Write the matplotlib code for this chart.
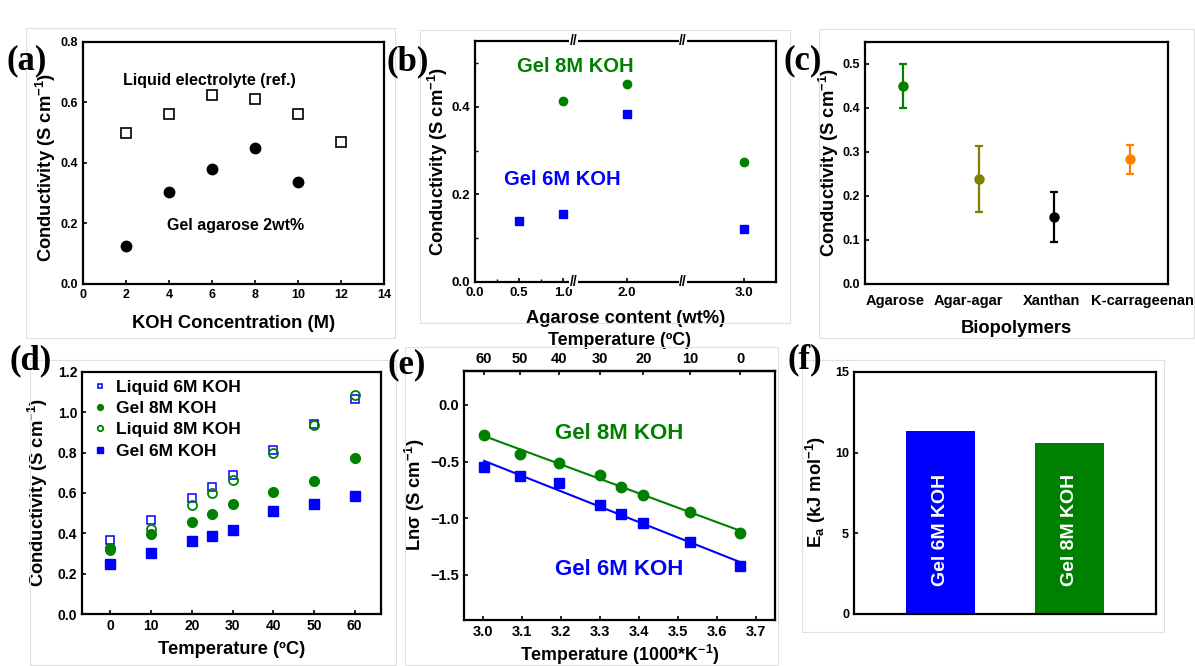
import numpy as np
import matplotlib
matplotlib.use("Agg")
import matplotlib.pyplot as plt
import matplotlib.transforms as mtrans
from matplotlib.patches import Rectangle

# (a) conductivity vs KOH concentration
koh_conc = [2, 4, 6, 8, 10, 12]
liquid_ref = [0.499, 0.562, 0.625, 0.610, 0.562, 0.470]
gel_conc = [2, 4, 6, 8, 10]
gel_agarose = [0.127, 0.303, 0.381, 0.450, 0.338]

# (b) conductivity vs agarose content
agar_6m_x = [0.5, 1.0, 2.0, 3.0]
agar_6m = [0.139, 0.155, 0.383, 0.121]
agar_8m_x = [1.0, 2.0, 3.0]
agar_8m = [0.414, 0.451, 0.275]
agar_ticks = [0.0, 0.5, 1.0, 2.0, 3.0]

# (c) biopolymers
polymers = ["Agarose", "Agar-agar", "Xanthan", "K-carrageenan"]
poly_cond = [0.451, 0.238, 0.152, 0.283]
poly_err = [0.050, 0.075, 0.057, 0.034]
poly_colors = ["#008000", "#808000", "#000000", "#ff8000"]

# (d) conductivity vs temperature
temps = [0, 10, 20, 25, 30, 40, 50, 60]
liq_6m = [0.366, 0.466, 0.573, 0.631, 0.688, 0.812, 0.941, 1.068]
gel_8m = [0.328, 0.395, 0.457, 0.494, 0.546, 0.607, 0.660, 0.774]
liq_8m = [0.317, 0.423, 0.540, 0.601, 0.664, 0.799, 0.938, 1.085]
gel_6m = [0.246, 0.304, 0.360, 0.386, 0.419, 0.510, 0.545, 0.583]

# (e) Arrhenius plot
ln_gel_8m = [-1.127, -0.945, -0.792, -0.725, -0.619, -0.511, -0.429, -0.267]
ln_gel_6m = [-1.424, -1.215, -1.042, -0.963, -0.881, -0.690, -0.625, -0.552]
top_temps = [60, 50, 40, 30, 20, 10, 0]

# (f) activation energy
ea_labels = ["Gel 6M KOH", "Gel 8M KOH"]
ea_values = [11.32, 10.57]
ea_colors = ["#0000ff", "#008000"]

BLUE = "#0000ff"
GREEN = "#008000"

plt.rcParams["font.family"] = ["Liberation Sans", "DejaVu Sans"]
plt.rcParams["font.weight"] = "bold"
plt.rcParams["axes.labelweight"] = "bold"
plt.rcParams["mathtext.fontset"] = "custom"
plt.rcParams["mathtext.rm"] = "Liberation Sans:bold"
plt.rcParams["mathtext.default"] = "regular"
plt.rcParams["axes.linewidth"] = 1.6
plt.rcParams["xtick.direction"] = "in"
plt.rcParams["ytick.direction"] = "in"
plt.rcParams["xtick.major.size"] = 3
plt.rcParams["ytick.major.size"] = 3
plt.rcParams["xtick.minor.size"] = 2
plt.rcParams["ytick.minor.size"] = 2
plt.rcParams["xtick.major.width"] = 1.2
plt.rcParams["ytick.major.width"] = 1.2
plt.rcParams["xtick.minor.width"] = 1.0
plt.rcParams["ytick.minor.width"] = 1.0
plt.rcParams["axes.labelsize"] = 13.2

W, H = 1195, 666
fig = plt.figure(figsize=(W / 100, H / 100), dpi=100)


def add_ax(l, t, r, b):
    ax = fig.add_axes([l / W, 1 - b / H, (r - l) / W, (b - t) / H])
    ax._px = (l, t, r, b)
    return ax


def place_ylabel(ax, xr, yc):
    # xr: right edge of the rotated label, yc: its centre (pixels)
    l, t, r, b = ax._px
    ax.yaxis.set_label_coords((xr - l) / (r - l), 1 - (yc - t) / (b - t))


# faint frames of the pasted panels
for l, t, r, b in [(26, 28, 395, 338), (420, 30, 790, 323), (819, 29, 1194, 338),
                   (30, 360, 396, 665), (405, 347, 778, 665), (802, 360, 1164, 632)]:
    fig.add_artist(Rectangle((l / W, 1 - b / H), (r - l) / W, (b - t) / H,
                             transform=fig.transFigure, fill=False,
                             edgecolor="#e0e0e0", lw=0.8))

panel_font = dict(family="Liberation Serif", weight="bold", size=25,
                  ha="center", va="center")
for lab, x, y in [("(a)", 27, 61), ("(b)", 408, 62), ("(c)", 803, 61),
                  ("(d)", 31, 361), ("(e)", 407, 365), ("(f)", 805, 360)]:
    fig.text(x / W, 1 - y / H, lab, **panel_font)

ylab_cond = "Conductivity (S cm$^{-1}$)"

# ---- (a)
ax = add_ax(83, 42, 384, 284)
ax.plot(koh_conc, liquid_ref, "s", ms=6.5, mfc="none", mec="black", mew=1.2)
ax.plot(gel_conc, gel_agarose, "o", ms=7.5, color="black")
ax.set_xlim(0, 14)
ax.set_ylim(0, 0.8)
ax.set_xticks(range(0, 15, 2))
ax.set_yticks([0, 0.2, 0.4, 0.6, 0.8])
ax.set_yticklabels(["%.1f" % v for v in [0, 0.2, 0.4, 0.6, 0.8]])
ax.tick_params(labelsize=9)
ax.set_xlabel("KOH Concentration (M)", labelpad=10)
ax.set_ylabel(ylab_cond)
place_ylabel(ax, 58, 167)
ax.text(5.87, 0.672, "Liquid electrolyte (ref.)", ha="center", va="center", fontsize=11.5)
ax.text(7.1, 0.193, "Gel agarose 2wt%", ha="center", va="center", fontsize=11.5)

# ---- (b) broken x axis via piecewise scale
brk_data = [0.0, 1.0, 2.0, 3.0, 4.0]
brk_pos = [0.0, 88.0, 152.0, 269.0, 386.0]


def fwd(x):
    return np.interp(x, brk_data, brk_pos)


def inv(p):
    return np.interp(p, brk_pos, brk_data)


ax = add_ax(475, 41, 776, 282)
ax.set_xscale("function", functions=(fwd, inv))
ax.plot(agar_6m_x, agar_6m, "s", ms=6, color=BLUE)
ax.plot(agar_8m_x, agar_8m, "o", ms=6, color=GREEN)
ax.set_xlim(0, 3.0 + 32 / 117)
ax.set_ylim(0, 0.55)
ax.set_xticks(agar_ticks)
ax.set_xticklabels(["%.1f" % v for v in agar_ticks])
ax.set_xticks([0.25, 0.75], minor=True)
ax.set_yticks([0, 0.2, 0.4])
ax.set_yticklabels(["0.0", "0.2", "0.4"])
ax.set_yticks([0.1, 0.3, 0.5], minor=True)
ax.tick_params(labelsize=9.5)
for xb in [1.16, 2.48]:
    for yb in [0, 1]:
        ax.text(xb, yb, "//", transform=ax.get_xaxis_transform(), ha="center",
                va="center", fontsize=10, clip_on=False, zorder=5,
                bbox=dict(facecolor="white", edgecolor="none", pad=0.3))
ax.set_xlabel("Agarose content (wt%)", labelpad=8)
ax.set_ylabel(ylab_cond)
place_ylabel(ax, 450, 161)
ax.text(1.2, 0.491, "Gel 8M KOH", color=GREEN, ha="center", va="center", fontsize=14.5)
ax.text(0.99, 0.233, "Gel 6M KOH", color=BLUE, ha="center", va="center", fontsize=14.5)

# ---- (c)
ax = add_ax(865, 42, 1168, 284)
for i in range(len(polymers)):
    ax.errorbar(i, poly_cond[i], yerr=poly_err[i], fmt="o", ms=6.5,
                color=poly_colors[i], ecolor=poly_colors[i], elinewidth=1.6,
                capsize=3, capthick=1.6)
ax.set_xlim(-0.5, 3.5)
ax.set_ylim(0, 0.55)
ax.set_xticks(range(len(polymers)))
ax.set_xticklabels(polymers, fontsize=10.5)
ax.tick_params(axis="x", length=0, pad=7)
for lbl, dx in zip(ax.get_xticklabels(), [-8, -10, -3, 12]):
    lbl.set_transform(lbl.get_transform() + mtrans.ScaledTranslation(dx / 100, 0, fig.dpi_scale_trans))
ax.set_yticks([0, 0.1, 0.2, 0.3, 0.4, 0.5])
ax.set_yticklabels(["%.1f" % v for v in [0, 0.1, 0.2, 0.3, 0.4, 0.5]])
ax.tick_params(axis="y", labelsize=9)
ax.set_xlabel("Biopolymers", labelpad=9)
ax.set_ylabel(ylab_cond)
place_ylabel(ax, 841, 162)

# ---- (d)
ax = add_ax(82, 372, 381, 614)
ax.plot(temps, liq_6m, "s", ms=6, mfc="none", mec=BLUE, mew=1.1, label="Liquid 6M KOH")
ax.plot(temps, gel_8m, "o", ms=7, color=GREEN, label="Gel 8M KOH")
ax.plot(temps, liq_8m, "o", ms=6.5, mfc="none", mec=GREEN, mew=1.3, label="Liquid 8M KOH")
ax.plot(temps, gel_6m, "s", ms=7, color=BLUE, label="Gel 6M KOH")
ax.set_xlim(-7, 66.5)
ax.set_ylim(0, 1.2)
ax.set_xticks(range(0, 61, 10))
ax.set_yticks([0, 0.2, 0.4, 0.6, 0.8, 1.0, 1.2])
ax.set_yticklabels(["%.1f" % v for v in [0, 0.2, 0.4, 0.6, 0.8, 1.0, 1.2]])
ax.tick_params(labelsize=10)
ax.set_xlabel("Temperature (ºC)", labelpad=6)
ax.set_ylabel(ylab_cond)
place_ylabel(ax, 50, 492)
ax.legend(loc="upper left", frameon=False, fontsize=12.5, markerscale=0.6,
          handletextpad=0.3, labelspacing=0.35, borderaxespad=0.1,
          handlelength=1.2, borderpad=0.35)

# ---- (e)
inv_t = [1000.0 / (t + 273.15) for t in temps]
ax = add_ax(464, 371, 775, 620)
k8, b8 = np.polyfit(inv_t, ln_gel_8m, 1)
k6, b6 = np.polyfit(inv_t, ln_gel_6m, 1)
xs = np.array([min(inv_t), max(inv_t)])
ax.plot(xs, k8 * xs + b8, color=GREEN, lw=1.5)
ax.plot(xs, k6 * xs + b6, color=BLUE, lw=1.5)
ax.plot(inv_t, ln_gel_8m, "o", ms=7.5, color=GREEN)
ax.plot(inv_t, ln_gel_6m, "s", ms=7, color=BLUE)
ax.set_xlim(2.95, 3.75)
ax.set_ylim(-1.9, 0.3)
ax.set_xticks(np.round(np.arange(3.0, 3.71, 0.1), 1))
ax.set_yticks([-1.5, -1.0, -0.5, 0.0])
ax.tick_params(labelsize=10.5)
ax.set_xlabel("Temperature (1000*K$^{-1}$)", labelpad=3, fontsize=12.8)
ax.set_ylabel("Lnσ (S cm$^{-1}$)")
place_ylabel(ax, 427, 495)
ax.text(3.35, -0.252, "Gel 8M KOH", color=GREEN, ha="center", va="center", fontsize=16)
ax.text(3.35, -1.456, "Gel 6M KOH", color=BLUE, ha="center", va="center", fontsize=16)


def k_to_c(x):
    x = np.asarray(x, dtype=float)
    with np.errstate(divide="ignore"):
        return 1000.0 / x - 273.15


def c_to_k(c):
    c = np.asarray(c, dtype=float)
    with np.errstate(divide="ignore"):
        return 1000.0 / (c + 273.15)


sec = ax.secondary_xaxis("top", functions=(k_to_c, c_to_k))
sec.set_xticks(top_temps)
sec.tick_params(labelsize=10.5, direction="in")
sec.set_xlabel("Temperature (ºC)", labelpad=5, fontsize=12.8)

# ---- (f)
ax = add_ax(854, 372, 1156, 614)
pos = np.arange(len(ea_values))
ax.bar(pos, ea_values, width=0.53, color=ea_colors)
for p, lab, v in zip(pos, ea_labels, ea_values):
    ax.text(p, 5.2, lab, rotation=90, color="white", ha="center", va="center", fontsize=14)
ax.set_xlim(-0.67, 1.67)
ax.set_ylim(0, 15)
ax.set_xticks([])
ax.set_yticks([0, 5, 10, 15])
ax.tick_params(labelsize=9)
ax.set_ylabel("E$_{a}$ (kJ mol$^{-1}$)")
place_ylabel(ax, 828, 492)

fig.savefig("out.png", dpi=100)
